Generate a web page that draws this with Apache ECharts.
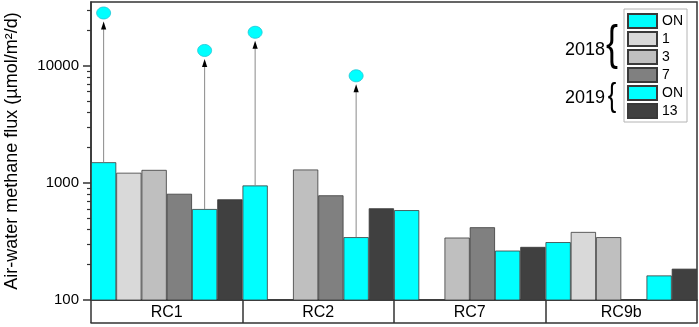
<!DOCTYPE html>
<html><head><meta charset="utf-8">
<script src="https://cdn.jsdelivr.net/npm/echarts@6/dist/echarts.min.js"></script>
<style>html,body{margin:0;padding:0;background:#fff}#c{width:699px;height:327px}</style>
</head><body><div id="c"></div>
<script>
const categories = ['RC1', 'RC2', 'RC7', 'RC9b'];
const seriesNames = ['ON 2018', '1', '3', '7', 'ON 2019', '13'];
const on2018 = [1500, 950, 585, 312];
const day1 = [1220, null, null, 381];
const day3 = [1290, 1300, 341, 344];
const day7 = [807, 783, 418, null];
const on2019 = [598, 344, 264, 162];
const day13 = [724, 607, 284, 185];
const outlierCats = ['RC1', 'RC1', 'RC2', 'RC2'];
const outlierSeries = ['ON 2018', 'ON 2019', 'ON 2018', 'ON 2019'];
const outlierValues = [28200, 13500, 19300, 8200];
const majorTicks = [100, 1000, 10000];
const minorTicks = [200, 300, 400, 500, 600, 700, 800, 900, 2000, 3000, 4000, 5000, 6000, 7000, 8000, 9000, 20000, 30000];
const yMin = 100, yMax = 35000;

const seriesValues = [on2018, day1, day3, day7, on2019, day13];
const colors = ['#00FFFF', '#D9D9D9', '#BFBFBF', '#808080', '#00FFFF', '#404040'];
const FONT = "'Liberation Sans', Arial, sans-serif";
const AX = '#333';

const outlierData = outlierCats.map(function (c, i) {
  const ci = categories.indexOf(c);
  const si = seriesNames.indexOf(outlierSeries[i]);
  return [ci, si, seriesValues[si][ci], outlierValues[i]];
});

const chart = echarts.init(document.getElementById('c'), null, {renderer: 'canvas'});
const barSeries = seriesNames.map(function (n, i) {
  return {
    name: n, type: 'bar', data: seriesValues[i],
    barGap: '0%', barCategoryGap: '0%',
    itemStyle: {color: colors[i], borderColor: '#3a3a3a', borderWidth: 0.8},
    emphasis: {disabled: true}
  };
});
barSeries.push({
  name: 'outliers', type: 'custom', data: outlierData,
  encode: {x: 0, y: 3}, z: 5, silent: true,
  renderItem: function (params, api) {
    const ci = api.value(0), slot = api.value(1);
    const band = api.size([1, 0])[0];
    const pBar = api.coord([ci, api.value(2)]);
    const pOut = api.coord([ci, api.value(3)]);
    const x = pBar[0] - band / 2 + (slot + 0.5) * band / seriesNames.length;
    const rx = 7, ry = 6;
    const tipY = pOut[1] + ry + 2.5;
    const headH = 8, headW = 2.6;
    return {type: 'group', children: [
      {type: 'line', shape: {x1: x, y1: pBar[1], x2: x, y2: tipY + headH - 1}, style: {stroke: '#8a8a8a', lineWidth: 1}},
      {type: 'polygon', shape: {points: [[x, tipY], [x - headW, tipY + headH], [x + headW, tipY + headH]]}, style: {fill: '#000'}},
      {type: 'ellipse', shape: {cx: x, cy: pOut[1], rx: rx, ry: ry}, style: {fill: '#00FFFF', stroke: '#22c4d4', lineWidth: 0.8}}
    ]};
  }
});

const option = {
  animation: false,
  textStyle: {fontFamily: FONT},
  grid: {left: 91, right: 2, top: 2, bottom: 27, show: true, borderColor: AX, borderWidth: 1.5, backgroundColor: 'transparent', containLabel: false, outerBoundsMode: 'none'},
  legend: {
    data: seriesNames, orient: 'vertical', left: 624, top: 9,
    itemWidth: 29, itemHeight: 14, itemGap: 2, itemTextGap: 5,
    padding: [4, 4, 3, 3], borderColor: '#b4b4b4', borderWidth: 1, backgroundColor: '#fff',
    icon: 'rect', selectedMode: false,
    textStyle: {fontSize: 14, color: '#000', fontFamily: FONT, lineHeight: 14},
    formatter: function (n) { return n.indexOf('ON') === 0 ? 'ON' : n; }
  },
  xAxis: [{
    type: 'category', data: categories, position: 'bottom',
    axisLine: {lineStyle: {color: AX, width: 1.5}},
    axisTick: {show: true, alignWithLabel: false, interval: 0, length: 23, lineStyle: {color: AX, width: 1.5}},
    axisLabel: {interval: 0, fontSize: 16, color: '#000', margin: 5, fontFamily: FONT},
    splitLine: {show: false}
  }, {
    type: 'category', data: categories, position: 'bottom', offset: 23,
    axisLine: {lineStyle: {color: AX, width: 1.5}},
    axisTick: {show: false}, axisLabel: {show: false}, splitLine: {show: false}
  }],
  yAxis: [{
    type: 'log', logBase: 10, min: yMin, max: yMax,
    name: 'Air-water methane flux (µmol/m²/d)', nameLocation: 'middle', nameGap: 70,
    nameTextStyle: {fontSize: 18, color: '#000', fontFamily: FONT},
    axisLine: {show: true, lineStyle: {color: AX, width: 1.5}},
    axisTick: {show: false},
    axisLabel: {fontSize: 15, color: '#000', margin: 12, showMaxLabel: false, fontFamily: FONT,
      formatter: function (v) { return String(Math.round(v)); }},
    splitLine: {show: false}
  }, {
    type: 'value', min: Math.log10(yMin), max: Math.log10(yMax), position: 'left',
    axisLine: {show: false}, axisLabel: {show: false}, splitLine: {show: false},
    axisTick: {show: true, length: 8, customValues: majorTicks.map(Math.log10), lineStyle: {color: AX, width: 1.5}}
  }, {
    type: 'value', min: Math.log10(yMin), max: Math.log10(yMax), position: 'left',
    axisLine: {show: false}, axisLabel: {show: false}, splitLine: {show: false},
    axisTick: {show: true, length: 4, customValues: minorTicks.map(Math.log10), lineStyle: {color: AX, width: 1.2}}
  }],
  graphic: [
    {type: 'text', x: 565, y: 50, style: {text: '2018', fontSize: 18, fontFamily: FONT, fill: '#000', verticalAlign: 'middle'}},
    {type: 'text', x: 612, y: 46, scaleX: 0.75, style: {text: '{', fontSize: 48, fontFamily: FONT, fill: '#000', verticalAlign: 'middle', align: 'center'}},
    {type: 'text', x: 565, y: 98, style: {text: '2019', fontSize: 18, fontFamily: FONT, fill: '#000', verticalAlign: 'middle'}},
    {type: 'text', x: 612, y: 97, scaleX: 0.75, style: {text: '{', fontSize: 34, fontFamily: FONT, fill: '#000', verticalAlign: 'middle', align: 'center'}}
  ],
  series: barSeries
};
chart.setOption(option);
</script></body></html>
